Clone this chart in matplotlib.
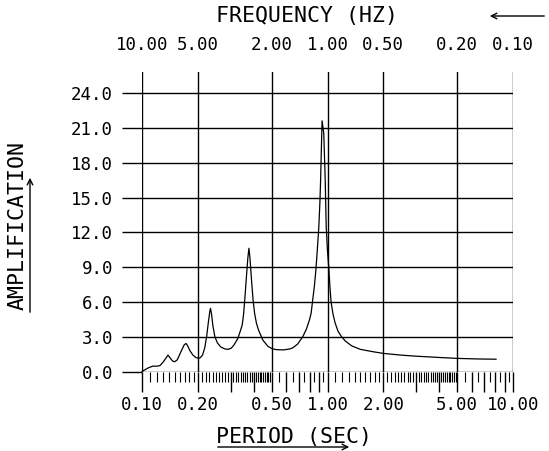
import numpy as np
import matplotlib
matplotlib.use("Agg")
import matplotlib.pyplot as plt
from matplotlib.ticker import FixedLocator, FuncFormatter

ARQUIVO = "out.png"

# valores
periodo = [0.100, 0.104, 0.108, 0.114, 0.120, 0.125, 0.130, 0.134, 0.138, 0.142,
           0.146, 0.150, 0.155, 0.160, 0.165, 0.169, 0.173, 0.177, 0.181, 0.188,
           0.196, 0.205, 0.212, 0.218, 0.223, 0.228, 0.232, 0.234, 0.237, 0.241,
           0.247, 0.255, 0.266, 0.280, 0.291, 0.303, 0.314, 0.329, 0.340, 0.347,
           0.353, 0.358, 0.366, 0.372, 0.377, 0.382, 0.389, 0.397, 0.405, 0.414,
           0.425, 0.448, 0.478, 0.500, 0.530, 0.580, 0.625, 0.650, 0.690, 0.736,
           0.770, 0.800, 0.816, 0.830, 0.850, 0.866, 0.882, 0.898, 0.910, 0.918,
           0.926, 0.935, 0.955, 0.972, 0.984, 1.000, 1.015, 1.030, 1.045, 1.070,
           1.100, 1.140, 1.190, 1.250, 1.350, 1.500, 1.750, 2.000, 2.500, 3.000,
           4.000, 5.000, 6.500, 8.100]
amplificacao = [0.05, 0.20, 0.35, 0.50, 0.50, 0.55, 0.85, 1.15, 1.45, 1.20,
                0.95, 0.88, 1.05, 1.55, 2.00, 2.35, 2.45, 2.20, 1.85, 1.46,
                1.22, 1.20, 1.45, 2.10, 3.04, 4.30, 5.20, 5.48, 5.00, 4.00,
                3.04, 2.50, 2.15, 1.98, 1.95, 2.05, 2.35, 2.90, 3.60, 4.04,
                5.00, 6.19, 8.30, 9.80, 10.64, 9.80, 8.00, 6.19, 5.00, 4.19,
                3.60, 2.75, 2.20, 2.02, 1.92, 1.90, 1.98, 2.08, 2.40, 3.04,
                3.70, 4.50, 5.05, 6.05, 7.40, 8.80, 10.60, 12.50, 14.60, 16.50,
                19.00, 21.60, 20.50, 16.50, 12.50, 10.40, 9.06, 7.40, 6.05, 5.00,
                4.20, 3.50, 3.04, 2.65, 2.25, 1.95, 1.75, 1.60, 1.45, 1.36,
                1.25, 1.17, 1.12, 1.10]

periodos_rotulo = [0.1, 0.2, 0.5, 1.0, 2.0, 5.0, 10.0]
frequencias_rotulo = [10.0, 5.0, 2.0, 1.0, 0.5, 0.2, 0.1]
valores_y = [0, 3, 6, 9, 12, 15, 18, 21, 24]

FONTE = "DejaVu Sans Mono"
plt.rcParams["font.family"] = FONTE

fig = plt.figure(figsize=(5.49, 4.51), dpi=100)
W, H = 549, 451
ax = fig.add_axes([142 / W, 79 / H, 371 / W, 300 / H])

ax.set_xscale("log")
ax.set_xlim(0.1, 10)
ax.set_ylim(0, 25.8)
for s in ax.spines.values():
    s.set_visible(False)

ax.plot(periodo, amplificacao, color="black", lw=0.9, clip_on=False, zorder=3)

# grade vertical nos periodos rotulados
for p in periodos_rotulo:
    ax.axvline(p, color="black", lw=1.0, zorder=2)

# ticks do eixo x
maiores = np.concatenate([np.arange(1, 10) * 0.1, np.arange(1, 11) * 1.0])
menores = np.concatenate([np.arange(10, 50) * 0.01, np.arange(10, 20) * 0.05,
                          np.arange(10, 50) * 0.1, np.arange(10, 20) * 0.5])
menores = [m for m in np.round(menores, 4) if not np.any(np.isclose(m, maiores))]
ax.xaxis.set_major_locator(FixedLocator(maiores))
ax.xaxis.set_minor_locator(FixedLocator(menores))


def rotulo_periodo(x, pos):
    if np.any(np.isclose(x, periodos_rotulo)):
        return f"{x:.2f}"
    return ""


ax.xaxis.set_major_formatter(FuncFormatter(rotulo_periodo))
ax.xaxis.set_minor_formatter(FuncFormatter(lambda x, pos: ""))
ax.tick_params(axis="x", which="major", direction="out", length=14.4, width=1.0,
               pad=3.2, labelsize=12.5)
ax.tick_params(axis="x", which="minor", direction="out", length=7.5, width=0.8)

# eixo y com grade estendida para a esquerda
ax.set_yticks(valores_y)
ax.set_yticklabels([f"{v:.1f}" for v in valores_y])
ax.tick_params(axis="y", which="major", direction="out", length=14.4, width=1.0,
               pad=6.5, labelsize=12.5)
ax.grid(axis="y", color="black", lw=1.0, zorder=2)


# eixo de frequencia no topo
def inv(x):
    x = np.asarray(x, dtype=float)
    with np.errstate(divide="ignore"):
        return 1.0 / x


sec = ax.secondary_xaxis("top", functions=(inv, inv))
sec.set_xticks(frequencias_rotulo)
sec.set_xticklabels([f"{f:.2f}" for f in frequencias_rotulo])
sec.xaxis.set_minor_locator(FixedLocator([]))
sec.tick_params(axis="x", which="both", length=0, pad=13, labelsize=12.5)
for s in sec.spines.values():
    s.set_visible(False)

# titulos e setas
seta = dict(arrowstyle="->", lw=1.0, color="black")
fig.text(307 / W, 1 - 16 / H, "FREQUENCY (HZ)", ha="center", va="center", fontsize=15.5)
ax.annotate("", xy=(487 / W, 1 - 16 / H), xytext=(547 / W, 1 - 16 / H),
            xycoords="figure fraction", textcoords="figure fraction",
            arrowprops=seta, annotation_clip=False)

fig.text(294 / W, 1 - 437 / H, "PERIOD (SEC)", ha="center", va="center", fontsize=15.5)
ax.annotate("", xy=(352 / W, 1 - 447 / H), xytext=(215 / W, 1 - 447 / H),
            xycoords="figure fraction", textcoords="figure fraction",
            arrowprops=seta, annotation_clip=False)

fig.text(18 / W, 1 - 226 / H, "AMPLIFICATION", ha="center", va="center",
         rotation=90, fontsize=15.5)
ax.annotate("", xy=(30 / W, 1 - 175 / H), xytext=(30 / W, 1 - 315 / H),
            xycoords="figure fraction", textcoords="figure fraction",
            arrowprops=seta, annotation_clip=False)

fig.savefig(ARQUIVO, dpi=100)
plt.close(fig)
